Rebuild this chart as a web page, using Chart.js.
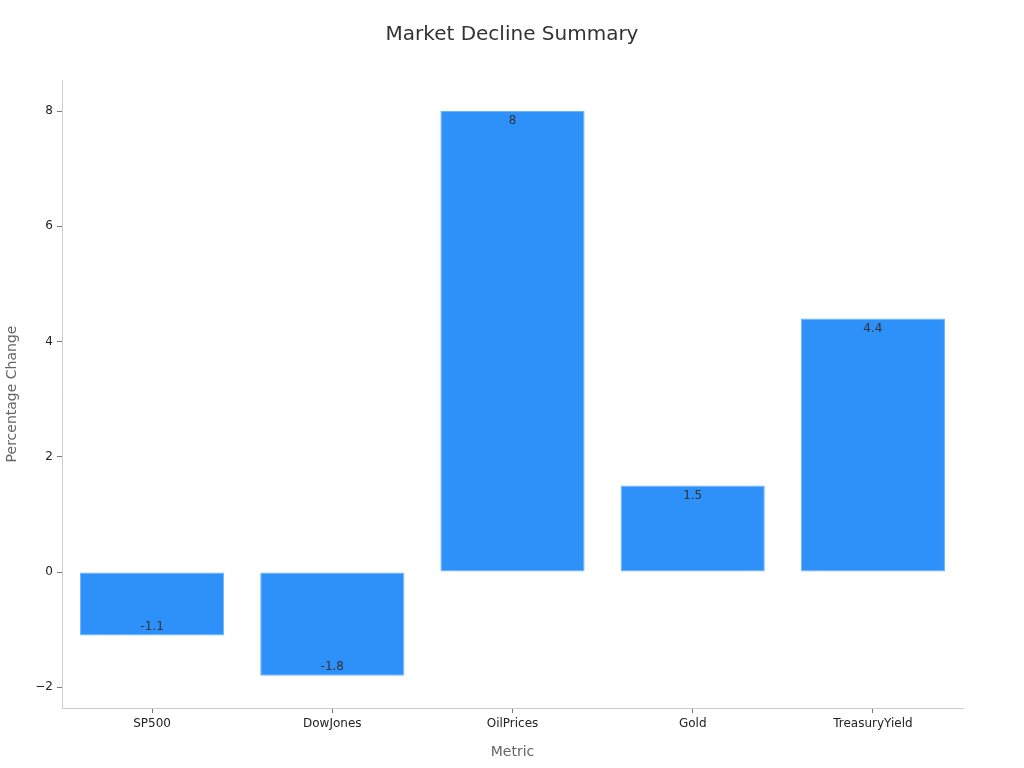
<!DOCTYPE html>
<html>
<head>
<meta charset="utf-8">
<script src="https://cdn.jsdelivr.net/npm/chart.js@4.4.1/dist/chart.umd.min.js"></script>
<style>
  html, body { margin: 0; padding: 0; background: #fff; }
  #wrap { width: 1024px; height: 768px; }
</style>
</head>
<body>
<div id="wrap"><canvas id="declineChart" width="1024" height="768"></canvas></div>
<script>
/* ── data ── */
const metrics = ['SP500', 'DowJones', 'OilPrices', 'Gold', 'TreasuryYield'];
const pctChange = [-1.1, -1.8, 8, 1.5, 4.4];
const yTickValues = [-2, 0, 2, 4, 6, 8];

/* ── value labels, drawn just inside the end of each bar ── */
const barLabels = {
  id: 'barLabels',
  afterDatasetsDraw(chart) {
    const ctx = chart.ctx;
    const meta = chart.getDatasetMeta(0);
    ctx.save();
    ctx.font = '12px "DejaVu Sans"';
    ctx.fillStyle = '#333';
    ctx.textAlign = 'center';
    ctx.textBaseline = 'middle';
    meta.data.forEach((bar, i) => {
      const v = pctChange[i];
      const y = v >= 0 ? bar.y + 10 : bar.y - 9;
      ctx.fillText(String(v), bar.x, y);
    });
    ctx.restore();
  }
};

const ctx = document.getElementById('declineChart');
new Chart(ctx, {
  type: 'bar',
  data: {
    labels: metrics,
    datasets: [{
      data: pctChange,
      backgroundColor: '#2e91fa',
      borderColor: '#6cb3ff',
      borderWidth: 1,
      borderSkipped: false,
      barPercentage: 0.8,
      categoryPercentage: 1
    }]
  },
  options: {
    responsive: false,
    animation: false,
    layout: { padding: 0 },
    plugins: {
      legend: { display: false },
      tooltip: { enabled: false },
      title: {
        display: true,
        text: 'Market Decline Summary',
        color: '#333',
        font: { family: 'DejaVu Sans', size: 20, weight: 'normal' },
        padding: { top: 23, bottom: 33 }
      }
    },
    scales: {
      x: {
        afterFit(scale) { scale.height = 60; },
        grid: { display: true, offset: false, drawOnChartArea: false, drawTicks: true, tickLength: 5, color: '#777' },
        border: { display: true, color: '#ccc' },
        ticks: { color: '#222', padding: 4, font: { family: 'DejaVu Sans', size: 12 } },
        title: {
          display: true,
          text: 'Metric',
          color: '#666',
          font: { family: 'DejaVu Sans', size: 14 },
          padding: { top: 4, bottom: 7 }
        }
      },
      y: {
        min: -2.36,
        max: 8.54,
        afterFit(scale) { scale.width = 62; },
        afterBuildTicks(scale) { scale.ticks = yTickValues.map(v => ({ value: v })); },
        grid: { display: true, drawOnChartArea: false, drawTicks: true, tickLength: 5, color: '#777' },
        border: { display: true, color: '#ccc' },
        ticks: {
          color: '#222',
          padding: 4,
          font: { family: 'DejaVu Sans', size: 12 },
          callback: v => (v < 0 ? '\u2212' + Math.abs(v) : String(v))
        },
        title: {
          display: true,
          text: 'Percentage Change',
          color: '#666',
          font: { family: 'DejaVu Sans', size: 14 },
          padding: { top: 4, bottom: 4 }
        }
      },
      /* empty right-hand spacer so the title stays centred on the page */
      spacer: {
        type: 'linear',
        position: 'right',
        display: true,
        afterFit(scale) { scale.width = 61; },
        grid: { display: false },
        border: { display: false },
        ticks: { display: false }
      }
    }
  },
  plugins: [barLabels]
});
</script>
</body>
</html>
